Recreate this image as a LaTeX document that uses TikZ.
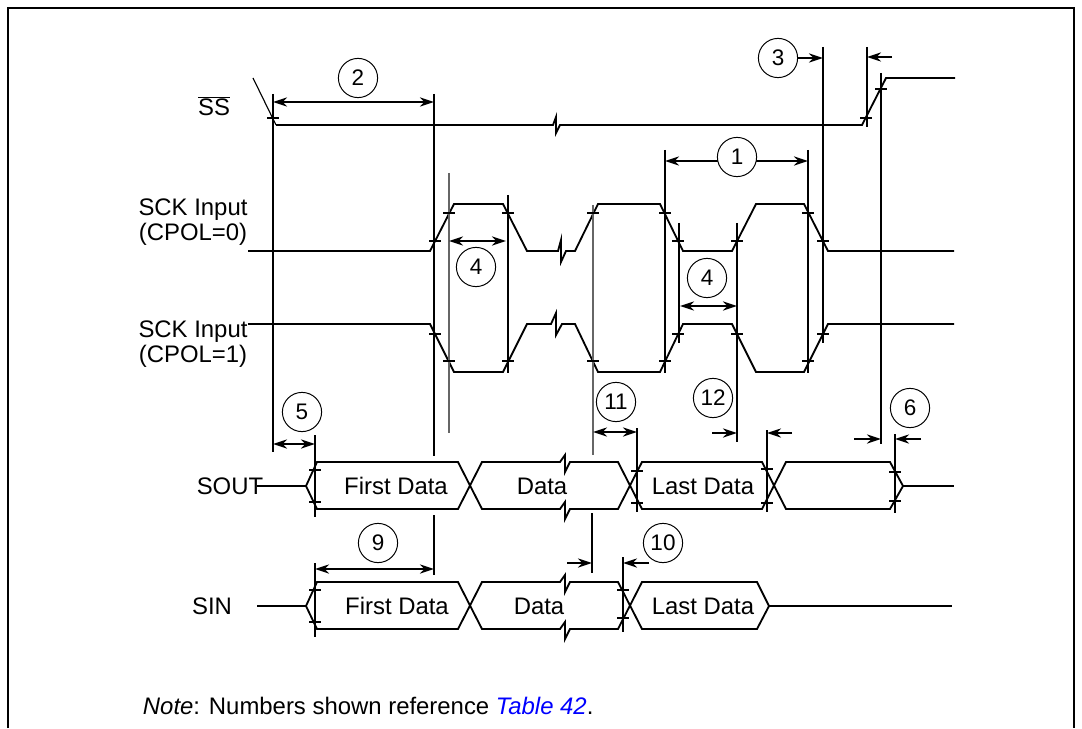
\documentclass[tikz,border=0pt]{standalone}
\usepackage{fontspec}
\setmainfont{Liberation Sans}
\usepackage{xcolor}
\usetikzlibrary{arrows.meta}

\begin{document}
\begin{tikzpicture}[
    x=0.025cm, y=-0.025cm,
    every node/.style={font=\fontsize{17}{18}\selectfont},
    sig/.style={line width=1.3pt},
    vline/.style={line width=1.3pt},
    vthin/.style={line width=0.8pt, black!60},
    num/.style={circle, draw, line width=0.7pt, fill=white, minimum size=0.98cm, inner sep=0pt, font=\fontsize{16}{18}\selectfont},
    dim/.style={<->, line width=1.1pt, >={Stealth[length=10pt,width=6.5pt]}},
    dimr/.style={->, line width=1.1pt, >={Stealth[length=10pt,width=6.5pt]}}
]
\useasboundingbox (0,0) rectangle (1082,728);

% Frame
\draw[line width=1.4pt] (8,728) -- (8,8) -- (1074,8) -- (1074,728);

% Signal names
\node (ss) at (214,106) {$\overline{\mbox{SS}}$};
\node[align=center] (sck0) at (193,222) {SCK Input\\(CPOL=0)};
\node[align=center] (sck1) at (193,344) {SCK Input\\(CPOL=1)};
\node (sout) at (230,486) {SOUT};
\node (sin) at (212,606) {SIN};

% SS
\draw[line width=0.8pt] (253,78) -- (276,125);
\draw[sig] (276,125) -- (553,125) -- (556,117) -- (556,133) -- (560,125) -- (862,125) -- (886,78) -- (955,78);

% SCK, CPOL=0
\draw[sig] (248,251) -- (430,251) -- (454,204) -- (503,204) -- (527,251) -- (558,251) -- (561,240) -- (561,262) -- (566,251)
  -- (575,251) -- (598,204) -- (660,204) -- (683,251) -- (732,251) -- (756,204) -- (804,204) -- (828,251) -- (954,251);
% SCK, CPOL=1
\draw[sig] (248,324) -- (430,324) -- (454,372) -- (503,372) -- (527,324) -- (551,324) -- (556,313) -- (556,335) -- (562,324)
  -- (575,324) -- (598,372) -- (660,372) -- (683,324) -- (732,324) -- (756,372) -- (804,372) -- (828,324) -- (954,324);

% SOUT
\draw[sig] (257,486) -- (306,486);
\draw[sig] (306,486) -- (317,462) -- (458,462) -- (482,509) -- (560,509) -- (565,502) -- (565,519) -- (570,509) -- (618,509)
  -- (642,462) -- (762,462) -- (786,509) -- (890,509) -- (903,486) -- (890,462) -- (786,462) -- (762,509) -- (642,509)
  -- (618,462) -- (570,462) -- (565,472) -- (565,455) -- (560,462) -- (482,462) -- (458,509) -- (317,509) -- cycle;
\draw[sig] (903,486) -- (954,486);
\node (sout1) at (396,486) {First Data};
\node (sout2) at (542,486) {Data};
\node (sout3) at (703,486) {Last Data};

% SIN
\draw[sig] (257,606) -- (306,606);
\draw[sig] (306,606) -- (317,582) -- (458,582) -- (482,629) -- (560,629) -- (565,622) -- (565,639) -- (570,629) -- (618,629)
  -- (642,582) -- (757,582) -- (769,606) -- (757,629) -- (642,629) -- (618,582) -- (570,582) -- (565,592) -- (565,575)
  -- (560,582) -- (482,582) -- (458,629) -- (317,629) -- cycle;
\draw[sig] (769,606) -- (952,606);
\node (sin1) at (397,606) {First Data};
\node (sin2) at (539,606) {Data};
\node (sin3) at (703,606) {Last Data};

% Timing lines
\foreach \x/\ya/\yb in {273/94/452, 434/94/456, 434/515/575, 508/195/373, 592/513/573, 665/150/373, 808/150/373,
    823/47/343, 867/47/127, 881/73/444, 679/223/343, 737/223/442, 315/435/517, 315/563/637, 637/428/512,
    767/430/512, 895/434/513, 623/557/632}
  \draw[vline] (\x,\ya) -- (\x,\yb);
\foreach \x/\ya/\yb in {449/173/433, 593/205/455}
  \draw[vthin] (\x,\ya) -- (\x,\yb);

% Ticks
\foreach \x/\y in {273/118, 866/118, 881/89,
    435/241, 449/213, 508/213, 593/213, 665/213, 678/241, 737/241, 808/213, 823/241,
    435/334, 449/361, 508/361, 593/361, 665/361, 678/334, 737/334, 808/361, 823/334,
    315/470, 315/502, 637/471, 637/503, 767/469, 767/503, 895/472, 895/501,
    315/590, 315/622, 623/590, 623/618}
  \draw[sig] ({\x-6},\y) -- ({\x+6},\y);

% Measurements
\draw[dim] (273,102) -- (434,102);
\draw[dim] (665,161) -- (808,161);
\draw[dimr] (797,58) -- (823,58);
\draw[dimr] (892,57) -- (867,57);
\draw[dim] (449,241) -- (506,241);
\draw[dim] (680,306) -- (737,306);
\draw[dim] (273,444) -- (315,444);
\draw[dim] (593,432) -- (637,432);
\draw[dimr] (712,433) -- (737,433);
\draw[dimr] (792,433) -- (767,433);
\draw[dimr] (854,439) -- (881,439);
\draw[dimr] (921,439) -- (895,439);
\draw[dim] (315,569) -- (434,569);
\draw[dimr] (567,563) -- (592,563);
\draw[dimr] (649,563) -- (623,563);

% Numbers
\node[num] (t1) at (737,157) {1};
\node[num] (t2) at (358,78) {2};
\node[num] (t3) at (778,58) {3};
\node[num] (t4a) at (476,267) {4};
\node[num] (t4b) at (707,278) {4};
\node[num] (t5) at (302,412) {5};
\node[num] (t6) at (910,408) {6};
\node[num] (t9) at (378,543) {9};
\node[num] (t10) at (663,543) {10};
\node[num] (t11) at (616,402) {11};
\node[num] (t12) at (713,398) {12};

% Note
\node[anchor=base west] (note) at (138,714) {\textit{Note}: Numbers shown reference \textcolor{blue}{\textit{Table 42}}.};

\end{tikzpicture}
\end{document}
